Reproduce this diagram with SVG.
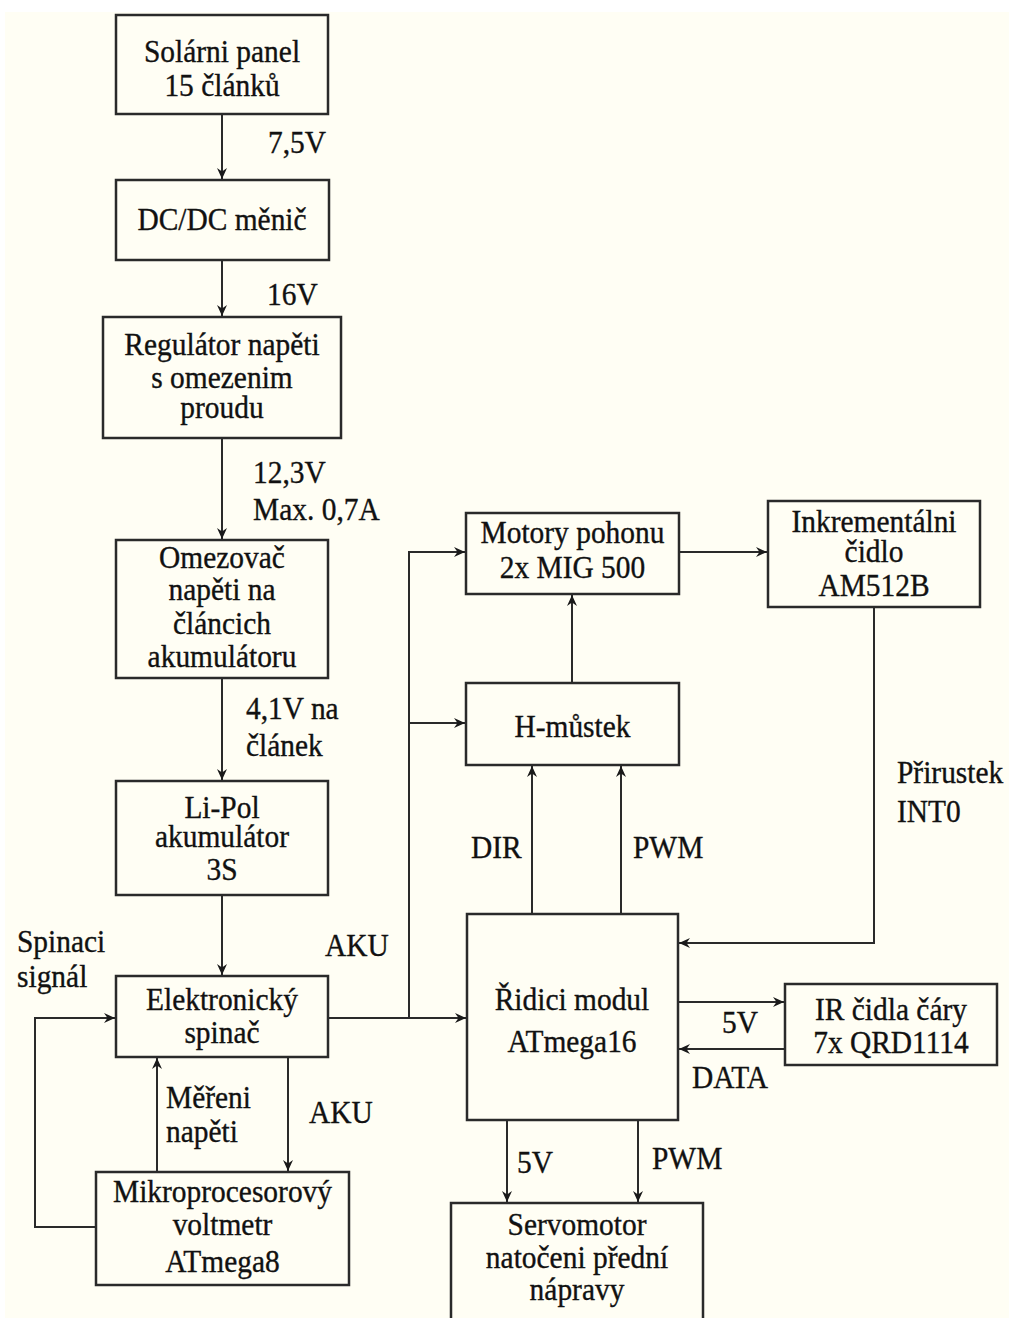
<svg xmlns="http://www.w3.org/2000/svg" width="1009" height="1318" viewBox="0 0 1009 1318">
<style>
.bx{fill:#fffef4;stroke:#2a2a2a;stroke-width:2.5}
.t{font-family:"Liberation Serif","Times New Roman",serif;font-size:31px;fill:#111;stroke:#111;stroke-width:0.35}
.c{text-anchor:middle}
.ln{fill:none;stroke:#2a2a2a;stroke-width:2;marker-end:url(#ah)}
</style>
<defs>
<marker id="ah" markerUnits="userSpaceOnUse" markerWidth="12" markerHeight="12" refX="11" refY="6" orient="auto">
<path d="M0,1 L11,6 L0,11 L3.5,6 Z" fill="#1a1a1a"/>
</marker>
</defs>
<rect x="0" y="0" width="1009" height="1318" fill="#ffffff"/>
<rect x="5" y="12" width="1004" height="1306" fill="#fffef4"/>

<g id="connectors">
<path class="ln" d="M222,114 V179"/>
<path class="ln" d="M222,260 V316"/>
<path class="ln" d="M222,438 V539"/>
<path class="ln" d="M222,678 V780"/>
<path class="ln" d="M222,895 V975"/>
<path class="ln" d="M96,1227 H35 V1018 H115"/>
<path class="ln" d="M157,1172 V1058"/>
<path class="ln" d="M288,1057 V1171"/>
<path class="ln" d="M328,1018 H466"/>
<path class="ln" d="M409,1018 V552 H465"/>
<path class="ln" d="M409,723 H465"/>
<path class="ln" d="M572,683 V595"/>
<path class="ln" d="M532,914 V766"/>
<path class="ln" d="M621,914 V766"/>
<path class="ln" d="M679,552 H767"/>
<path class="ln" d="M874,607 V943 H679"/>
<path class="ln" d="M678,1002 H784"/>
<path class="ln" d="M785,1049 H679"/>
<path class="ln" d="M507,1120 V1202"/>
<path class="ln" d="M638,1120 V1202"/>
</g>

<g id="labels">
<text class="t" transform="matrix(0.95,0,0,1,268,0)" x="0" y="153">7,5V</text>
<text class="t" transform="matrix(0.95,0,0,1,267,0)" x="0" y="305">16V</text>
<text class="t" transform="matrix(0.95,0,0,1,253,0)" x="0" y="483">12,3V</text>
<text class="t" transform="matrix(0.95,0,0,1,253,0)" x="0" y="520">Max. 0,7A</text>
<text class="t" transform="matrix(0.95,0,0,1,246,0)" x="0" y="719">4,1V na</text>
<text class="t" transform="matrix(0.95,0,0,1,246,0)" x="0" y="756">článek</text>
<text class="t" transform="matrix(0.95,0,0,1,17,0)" x="0" y="952">Spinaci</text>
<text class="t" transform="matrix(0.95,0,0,1,17,0)" x="0" y="987">signál</text>
<text class="t" transform="matrix(0.95,0,0,1,325,0)" x="0" y="956">AKU</text>
<text class="t" transform="matrix(0.95,0,0,1,166,0)" x="0" y="1108">Měřeni</text>
<text class="t" transform="matrix(0.95,0,0,1,166,0)" x="0" y="1142">napěti</text>
<text class="t" transform="matrix(0.95,0,0,1,309,0)" x="0" y="1123">AKU</text>
<text class="t" transform="matrix(0.95,0,0,1,471,0)" x="0" y="858">DIR</text>
<text class="t" transform="matrix(0.95,0,0,1,633,0)" x="0" y="858">PWM</text>
<text class="t" transform="matrix(0.95,0,0,1,897,0)" x="0" y="783">Přirustek</text>
<text class="t" transform="matrix(0.95,0,0,1,897,0)" x="0" y="822">INT0</text>
<text class="t" transform="matrix(0.95,0,0,1,722,0)" x="0" y="1033">5V</text>
<text class="t" transform="matrix(0.95,0,0,1,692,0)" x="0" y="1088">DATA</text>
<text class="t" transform="matrix(0.95,0,0,1,517,0)" x="0" y="1173">5V</text>
<text class="t" transform="matrix(0.95,0,0,1,652,0)" x="0" y="1169">PWM</text>
</g>

<g id="solar">
<rect class="bx" x="116" y="15" width="212" height="99"/>
<text class="t c" transform="matrix(0.95,0,0,1,222,0)"><tspan x="0" y="62">Solárni panel</tspan><tspan x="0" y="96">15 článků</tspan></text>
</g>
<g id="dcdc">
<rect class="bx" x="116" y="180" width="213" height="80"/>
<text class="t c" transform="matrix(0.95,0,0,1,222,0)" x="0" y="230">DC/DC měnič</text>
</g>
<g id="regulator">
<rect class="bx" x="103" y="317" width="238" height="121"/>
<text class="t c" transform="matrix(0.95,0,0,1,222,0)"><tspan x="0" y="355">Regulátor napěti</tspan><tspan x="0" y="388">s omezenim</tspan><tspan x="0" y="418">proudu</tspan></text>
</g>
<g id="omezovac">
<rect class="bx" x="116" y="540" width="212" height="138"/>
<text class="t c" transform="matrix(0.95,0,0,1,222,0)"><tspan x="0" y="568">Omezovač</tspan><tspan x="0" y="600">napěti na</tspan><tspan x="0" y="634">článcich</tspan><tspan x="0" y="667">akumulátoru</tspan></text>
</g>
<g id="lipol">
<rect class="bx" x="116" y="781" width="212" height="114"/>
<text class="t c" transform="matrix(0.95,0,0,1,222,0)"><tspan x="0" y="818">Li-Pol</tspan><tspan x="0" y="847">akumulátor</tspan><tspan x="0" y="880">3S</tspan></text>
</g>
<g id="spinac">
<rect class="bx" x="116" y="976" width="212" height="81"/>
<text class="t c" transform="matrix(0.95,0,0,1,222,0)"><tspan x="0" y="1010">Elektronický</tspan><tspan x="0" y="1043">spinač</tspan></text>
</g>
<g id="voltmetr">
<rect class="bx" x="96" y="1172" width="253" height="113"/>
<text class="t c" transform="matrix(0.95,0,0,1,222.5,0)"><tspan x="0" y="1202">Mikroprocesorový</tspan><tspan x="0" y="1235">voltmetr</tspan><tspan x="0" y="1272">ATmega8</tspan></text>
</g>
<g id="motory">
<rect class="bx" x="466" y="513" width="213" height="81"/>
<text class="t c" transform="matrix(0.95,0,0,1,572.5,0)"><tspan x="0" y="543">Motory pohonu</tspan><tspan x="0" y="578">2x MIG 500</tspan></text>
</g>
<g id="hmustek">
<rect class="bx" x="466" y="683" width="213" height="82"/>
<text class="t c" transform="matrix(0.95,0,0,1,572.5,0)" x="0" y="737">H-můstek</text>
</g>
<g id="inkrementalni">
<rect class="bx" x="768" y="501" width="212" height="106"/>
<text class="t c" transform="matrix(0.95,0,0,1,874,0)"><tspan x="0" y="532">Inkrementálni</tspan><tspan x="0" y="562">čidlo</tspan><tspan x="0" y="596">AM512B</tspan></text>
</g>
<g id="ridici">
<rect class="bx" x="467" y="914" width="211" height="206"/>
<text class="t c" transform="matrix(0.95,0,0,1,572,0)"><tspan x="0" y="1010">Řidici modul</tspan><tspan x="0" y="1052">ATmega16</tspan></text>
</g>
<g id="ir">
<rect class="bx" x="785" y="984" width="212" height="81"/>
<text class="t c" transform="matrix(0.95,0,0,1,891,0)"><tspan x="0" y="1020">IR čidla čáry</tspan><tspan x="0" y="1053">7x QRD1114</tspan></text>
</g>
<g id="servo">
<rect class="bx" x="451" y="1203" width="252" height="117"/>
<text class="t c" transform="matrix(0.95,0,0,1,577,0)"><tspan x="0" y="1235">Servomotor</tspan><tspan x="0" y="1268">natočeni přední</tspan><tspan x="0" y="1300">nápravy</tspan></text>
</g>
</svg>
